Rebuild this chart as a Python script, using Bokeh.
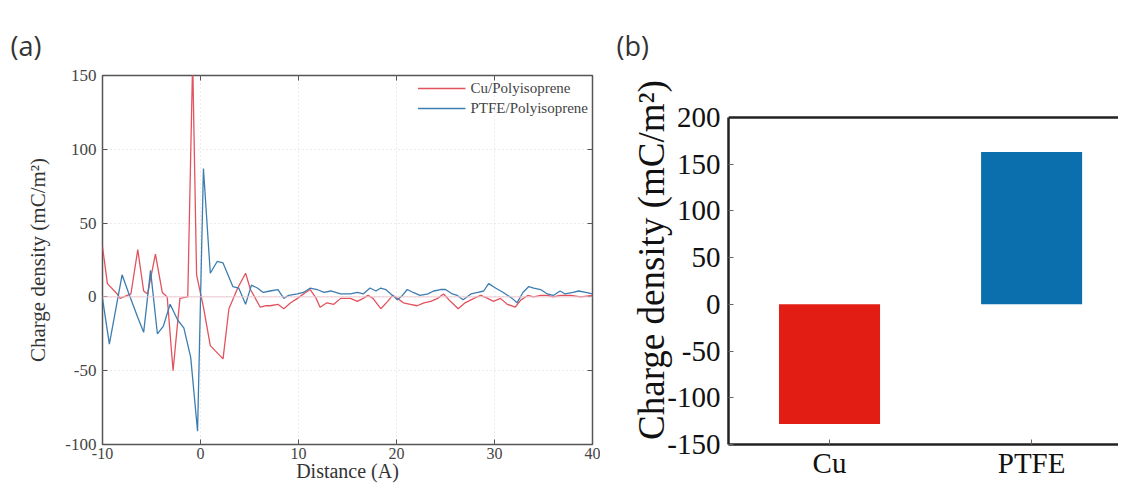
from bokeh.plotting import figure
from bokeh.layouts import row
from bokeh.models import Range1d, LinearAxis, FixedTicker, Span, Legend, LegendItem
from bokeh.embed import file_html
from bokeh.resources import INLINE

# ---- panel (a): charge density profiles ----
dist_cu = [-10.0, -9.5, -8.5, -8.2, -7.1, -6.4, -5.8, -5.4, -4.6, -3.9, -3.4, -2.8, -2.1, -1.3,
           -0.8, -0.4, 0.3, 1.0, 2.3, 2.9, 3.8, 4.6, 5.1, 5.6, 6.1, 6.6, 7.1, 7.9, 8.5, 9.2, 9.9,
           10.5, 11.2, 11.8, 12.2, 12.9, 13.6, 14.3, 15.3, 16.0, 16.6, 17.1, 17.6, 18.4, 19.1,
           19.6, 20.1, 20.7, 21.4, 22.1, 22.8, 23.5, 24.2, 24.8, 25.5, 26.3, 27.0, 27.9, 28.6,
           29.3, 29.9, 30.6, 31.3, 32.1, 32.7, 33.4, 34.0, 34.7, 35.4, 36.0, 36.7, 37.8, 38.8, 40.0]
cu_density = [34, 9, 2, -1, 2, 32, 4, 2, 29, 3, 0, -50, -1, 0,
              160, 15, -7, -33, -42, -8, 6, 16, 5, -1, -7, -6, -6, -5, -8, -4, -1,
              2, 5, -1, -7, -4, -5, -1, -1, -3, -1, 1, -1, -8, -3,
              1, -1, -4, -5, -6, -4, -3, -1, 2, -3, -8, -4, -1, 1,
              -1, -3, -1, -5, -7, -2, 1, 0, 1, 1, 0, 1, 1, 0, 1]

dist_ptfe = [-10.0, -9.3, -8.0, -7.3, -6.4, -5.8, -5.1, -4.4, -3.8, -3.1, -2.3, -1.7, -1.0, -0.3,
             0.3, 1.0, 1.7, 2.3, 3.3, 3.9, 4.6, 5.2, 5.8, 6.4, 7.1, 7.9, 8.5, 9.0, 9.9, 10.5,
             11.2, 11.9, 12.6, 13.3, 14.3, 15.3, 16.0, 16.6, 17.3, 17.9, 18.4, 18.9, 19.6, 20.1,
             20.6, 21.1, 21.7, 22.4, 23.2, 23.8, 24.5, 25.0, 25.7, 26.2, 26.8, 27.6, 28.3, 28.9,
             29.4, 30.1, 30.9, 31.8, 32.3, 32.9, 33.5, 34.0, 34.7, 35.4, 36.0, 36.7, 37.2, 38.0,
             38.6, 39.3, 40.0]
ptfe_density = [-1, -32, 15, 2, -14, -24, 18, -25, -20, -5, -16, -21, -41, -91,
                87, 16, 24, 23, 7, 6, -5, 8, 6, 3, 4, 5, -1, 1, 2, 3,
                6, 5, 3, 4, 2, 2, 3, 2, 6, 4, 6, 5, 1, -2,
                1, 5, 3, 1, 2, 4, 5, 5, 2, 1, -2, 2, 3, 4,
                9, 6, 3, -1, -4, 3, 7, 6, 5, 2, 1, 4, 2, 3,
                4, 3, 2]

series_labels = ["Cu/Polyisoprene", "PTFE/Polyisoprene"]
x_ticks_a = [-10, 0, 10, 20, 30, 40]
y_ticks_a = [-100, -50, 0, 50, 100, 150]

# ---- panel (b): net charge density ----
bar_categories = ["Cu", "PTFE"]
bar_values = [-128, 163]
y_ticks_b = [-150, -100, -50, 0, 50, 100, 150, 200]

SERIF = "Liberation Serif"
SANS = "Open Sans"
H = 484


def hyphen_labels(ticks):
    return {t: str(t) for t in ticks}


def style_title(p, text, offset):
    p.title.text = text
    p.title.text_font = SANS
    p.title.text_font_size = "27px"
    p.title.text_font_style = "normal"
    p.title.text_color = "#333333"
    p.title.align = "left"
    p.title.vertical_align = "top"
    p.title.offset = offset
    p.title.standoff = 20


# ================= panel (a) =================
pa = figure(width=600, height=H, x_range=Range1d(-10, 40), y_range=Range1d(-100, 150),
            output_backend="svg", toolbar_location=None,
            min_border_left=102, min_border_right=8, min_border_top=75, min_border_bottom=30)
style_title(pa, "(a)", -92)

pa.outline_line_color = "#555555"
pa.outline_line_width = 1.5
pa.background_fill_color = "white"

pa.add_layout(Span(location=0, dimension="width", line_color="#ecc8d0", line_width=1))

r_cu = pa.line(dist_cu, cu_density, line_color="#e2535e", line_width=1.3)
r_pt = pa.line(dist_ptfe, ptfe_density, line_color="#3d7db0", line_width=1.3)

for ax in (pa.xaxis[0], pa.yaxis[0]):
    ax.axis_line_color = None
    ax.major_tick_in = 5
    ax.major_tick_out = 0
    ax.minor_tick_in = 0
    ax.minor_tick_out = 0
    ax.major_tick_line_color = "#555555"
    ax.major_label_text_font = SERIF
    ax.major_label_text_font_size = "17px"
    ax.major_label_text_color = "#444444"
    ax.axis_label_text_font = SERIF
    ax.axis_label_text_font_size = "21px"
    ax.axis_label_text_font_style = "normal"
    ax.axis_label_text_color = "#333333"

pa.xaxis.ticker = FixedTicker(ticks=x_ticks_a)
pa.yaxis.ticker = FixedTicker(ticks=y_ticks_a)
pa.xaxis.major_label_overrides = hyphen_labels(x_ticks_a)
pa.yaxis.major_label_overrides = hyphen_labels(y_ticks_a)
pa.xaxis.axis_label = "Distance (A)"
pa.yaxis.axis_label = "Charge density (mC/m²)"
pa.xaxis.major_label_text_font_size = "16px"
pa.xaxis.axis_label_text_font_size = "20px"
pa.xaxis.major_label_standoff = 3
pa.xaxis.axis_label_standoff = -2
pa.yaxis.major_label_standoff = 6
pa.yaxis.axis_label_standoff = 12

# mirrored tick marks on top and right
top_a = LinearAxis(ticker=FixedTicker(ticks=x_ticks_a), axis_line_color=None,
                   major_tick_in=5, major_tick_out=0, minor_tick_in=0, minor_tick_out=0,
                   major_tick_line_color="#555555",
                   major_label_overrides={t: "" for t in x_ticks_a}, major_label_standoff=0)
right_a = LinearAxis(ticker=FixedTicker(ticks=y_ticks_a), axis_line_color=None,
                     major_tick_in=5, major_tick_out=0, minor_tick_in=0, minor_tick_out=0,
                     major_tick_line_color="#555555",
                     major_label_overrides={t: "" for t in y_ticks_a}, major_label_standoff=0)
pa.add_layout(top_a, "above")
pa.add_layout(right_a, "right")

pa.xgrid.ticker = FixedTicker(ticks=x_ticks_a)
pa.ygrid.ticker = FixedTicker(ticks=y_ticks_a)
for g in (pa.xgrid[0], pa.ygrid[0]):
    g.grid_line_color = "#d8d8d8"
    g.grid_line_dash = "1 3"
    g.grid_line_width = 1

legend = Legend(items=[LegendItem(label=series_labels[0], renderers=[r_cu]),
                       LegendItem(label=series_labels[1], renderers=[r_pt])],
                location="top_right")
legend.label_text_font = SERIF
legend.label_text_font_size = "15px"
legend.label_text_color = "#444444"
legend.background_fill_alpha = 0
legend.border_line_color = None
legend.glyph_width = 48
legend.glyph_height = 18
legend.label_height = 18
legend.spacing = 2
legend.padding = 4
legend.margin = 4
pa.add_layout(legend)

# ================= panel (b) =================
bar_x = [i + 0.5 for i in range(len(bar_categories))]
pb = figure(width=518, height=H, x_range=Range1d(0, 1.93), y_range=Range1d(-150, 245),
            output_backend="svg", toolbar_location=None,
            min_border_left=128, min_border_right=0, min_border_top=75, min_border_bottom=30)
style_title(pb, "(b)", -112)
pb.outline_line_color = None
pb.xgrid.visible = False
pb.ygrid.visible = False

pb.vbar(x=bar_x, top=bar_values, bottom=0, width=0.5,
        fill_color=["#e21d14", "#0b6ead"], line_color=None)

# top border of the box at the axis maximum
pb.add_layout(Span(location=max(y_ticks_b), dimension="width", line_color="#222222", line_width=2.5))

pb.xaxis.ticker = FixedTicker(ticks=bar_x)
pb.xaxis.major_label_overrides = {x: c for x, c in zip(bar_x, bar_categories)}
pb.yaxis.ticker = FixedTicker(ticks=y_ticks_b)
pb.yaxis.major_label_overrides = hyphen_labels(y_ticks_b)
pb.yaxis.bounds = (min(y_ticks_b), max(y_ticks_b))
pb.yaxis.axis_label = "Charge density (mC/m²)"
for ax in (pb.xaxis[0], pb.yaxis[0]):
    ax.axis_line_color = "#222222"
    ax.axis_line_width = 2.5
    ax.major_tick_in = 5
    ax.major_tick_out = 0
    ax.minor_tick_in = 0
    ax.minor_tick_out = 0
    ax.major_tick_line_color = "#666666"
    ax.major_label_text_font = SERIF
    ax.major_label_text_font_size = "29px"
    ax.major_label_text_color = "#111111"
    ax.axis_label_text_font = SERIF
    ax.axis_label_text_font_size = "37px"
    ax.axis_label_text_font_style = "normal"
    ax.axis_label_text_color = "#111111"
pb.xaxis.major_label_standoff = 2
pb.yaxis.major_label_standoff = 8
pb.yaxis.axis_label_standoff = -8

layout = row(pa, pb)
open("out.html", "w").write(file_html(layout, INLINE))
